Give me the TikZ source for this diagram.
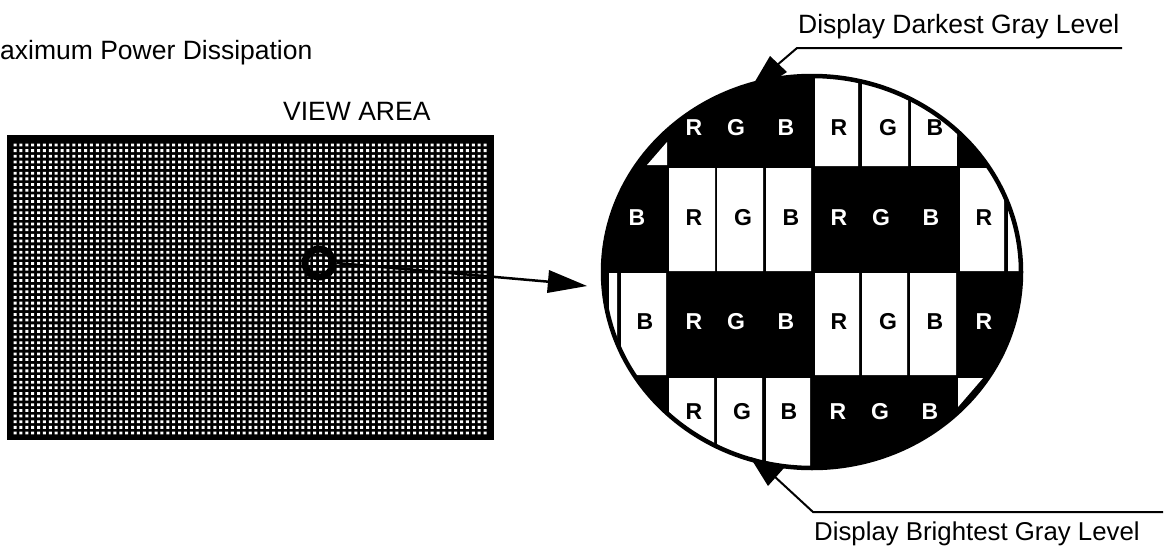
\documentclass[tikz,border=0pt]{standalone}
\usepackage{fontspec}
\setmainfont{Liberation Sans}
\tikzset{
  lbl/.style={inner sep=0pt,anchor=base west,font=\fontsize{26.5}{30}\selectfont},
  lbb/.style={lbl,font=\fontsize{25.8}{30}\selectfont},
  cl/.style={inner sep=0pt,anchor=center,font=\fontsize{23}{26}\selectfont\bfseries},
  wl/.style={cl,text=white},
  bl/.style={cl,text=black},
  leader/.style={draw=black,line width=2pt},
  hd/.style={fill=black,draw=none},
  dish/.style={draw=black,line width=4.5pt,ellipse,minimum width=418pt,minimum height=392pt,inner sep=0pt}
}
\usetikzlibrary{shapes.geometric}
\begin{document}
\begin{tikzpicture}[x=1pt,y=-1pt]
\useasboundingbox (0,0) rectangle (1167,549);
\fill[white] (0,0) rectangle (1167,549);
\node[lbl] (title) at (0,59) {aximum Power Dissipation};
\node[lbl] (view) at (283,120) {VIEW AREA};
\node[lbl] (dark) at (798,33) {Display Darkest Gray Level};
\node[lbb] (bright) at (814,540) {Display Brightest Gray Level};
% view area
\fill[black] (7,135) rectangle (494,440);
\fill[white] foreach \i in {0,...,80} { foreach \j in {0,...,51} {
  ({15+\i*5.875-1.5},{145+\j*5.647-1.4}) rectangle +(3,2.8) } };
\node[draw=black,line width=7pt,circle,minimum size=28pt,inner sep=0pt] (ring) at (319,263) {};
% magnified disc
\begin{scope}
\clip (812,272) ellipse [x radius=208,y radius=195];
\fill[black] (600,70) rectangle (1025,475);
\fill[white] (815,60) rectangle (858,166) (862,60) rectangle (908,166) (911,60) rectangle (957,137);
\fill[white] (911,137) rectangle (957,166);
\fill[white] (669,168) rectangle (715,271) (717,168) rectangle (763,271) (766,168) rectangle (811,271);
\fill[white] (960,168) rectangle (1004,271) (1008,168) rectangle (1030,271);
\fill[white] (609,273) rectangle (617,375) (621,273) rectangle (666,375);
\fill[white] (815,273) rectangle (859,375) (862,273) rectangle (907,375) (910,273) rectangle (956,375);
\fill[white] (669,378) rectangle (714,480) (717,378) rectangle (762,480) (766,378) rectangle (810,480);
\fill[white] (647,165) -- (667,165) -- (667,142) -- cycle;
\fill[white] (958,378) -- (983,378) -- (958,407) -- cycle;
\end{scope}
\node[dish] (disc) at (812,272) {};
% letters
\foreach \x/\c in {694/R,736/G,786/B} \node[wl] at (\x,128) {\c};
\foreach \x/\c in {839/R,888/G,935/B} \node[bl] at (\x,128) {\c};
\foreach \x/\c in {637/B,839/R,881/G,931/B} \node[wl] at (\x,218) {\c};
\foreach \x/\c in {694/R,743/G,791/B,984/R} \node[bl] at (\x,218) {\c};
\foreach \x/\c in {694/R,736/G,786/B,984/R} \node[wl] at (\x,322) {\c};
\foreach \x/\c in {645/B,839/R,888/G,935/B} \node[bl] at (\x,322) {\c};
\foreach \x/\c in {838/R,880/G,930/B} \node[wl] at (\x,412) {\c};
\foreach \x/\c in {694/R,742/G,789/B} \node[bl] at (\x,412) {\c};
% connectors
\coordinate (mainend) at (552,282);
\draw[leader,line width=2.5pt] (ring.east) -- (mainend);
\fill[hd] (549,270) -- (587,286) -- (547,293) -- cycle;
\coordinate (dk1) at (797,48);
\coordinate (dk2) at (1122,48);
\coordinate (dk3) at (776,66);
\draw[leader] (dk2) -- (dk1) -- (dk3);
\fill[hd] (770,56) -- (787,72) -- (773,81) -- (750,90) -- cycle;
\coordinate (br1) at (813,512);
\coordinate (br2) at (1163,512);
\coordinate (br3) at (774,476);
\draw[leader] (br2) -- (br1) -- (br3);
\fill[hd] (750,457) -- (784,468) -- (768,486) -- cycle;
\end{tikzpicture}
\end{document}
